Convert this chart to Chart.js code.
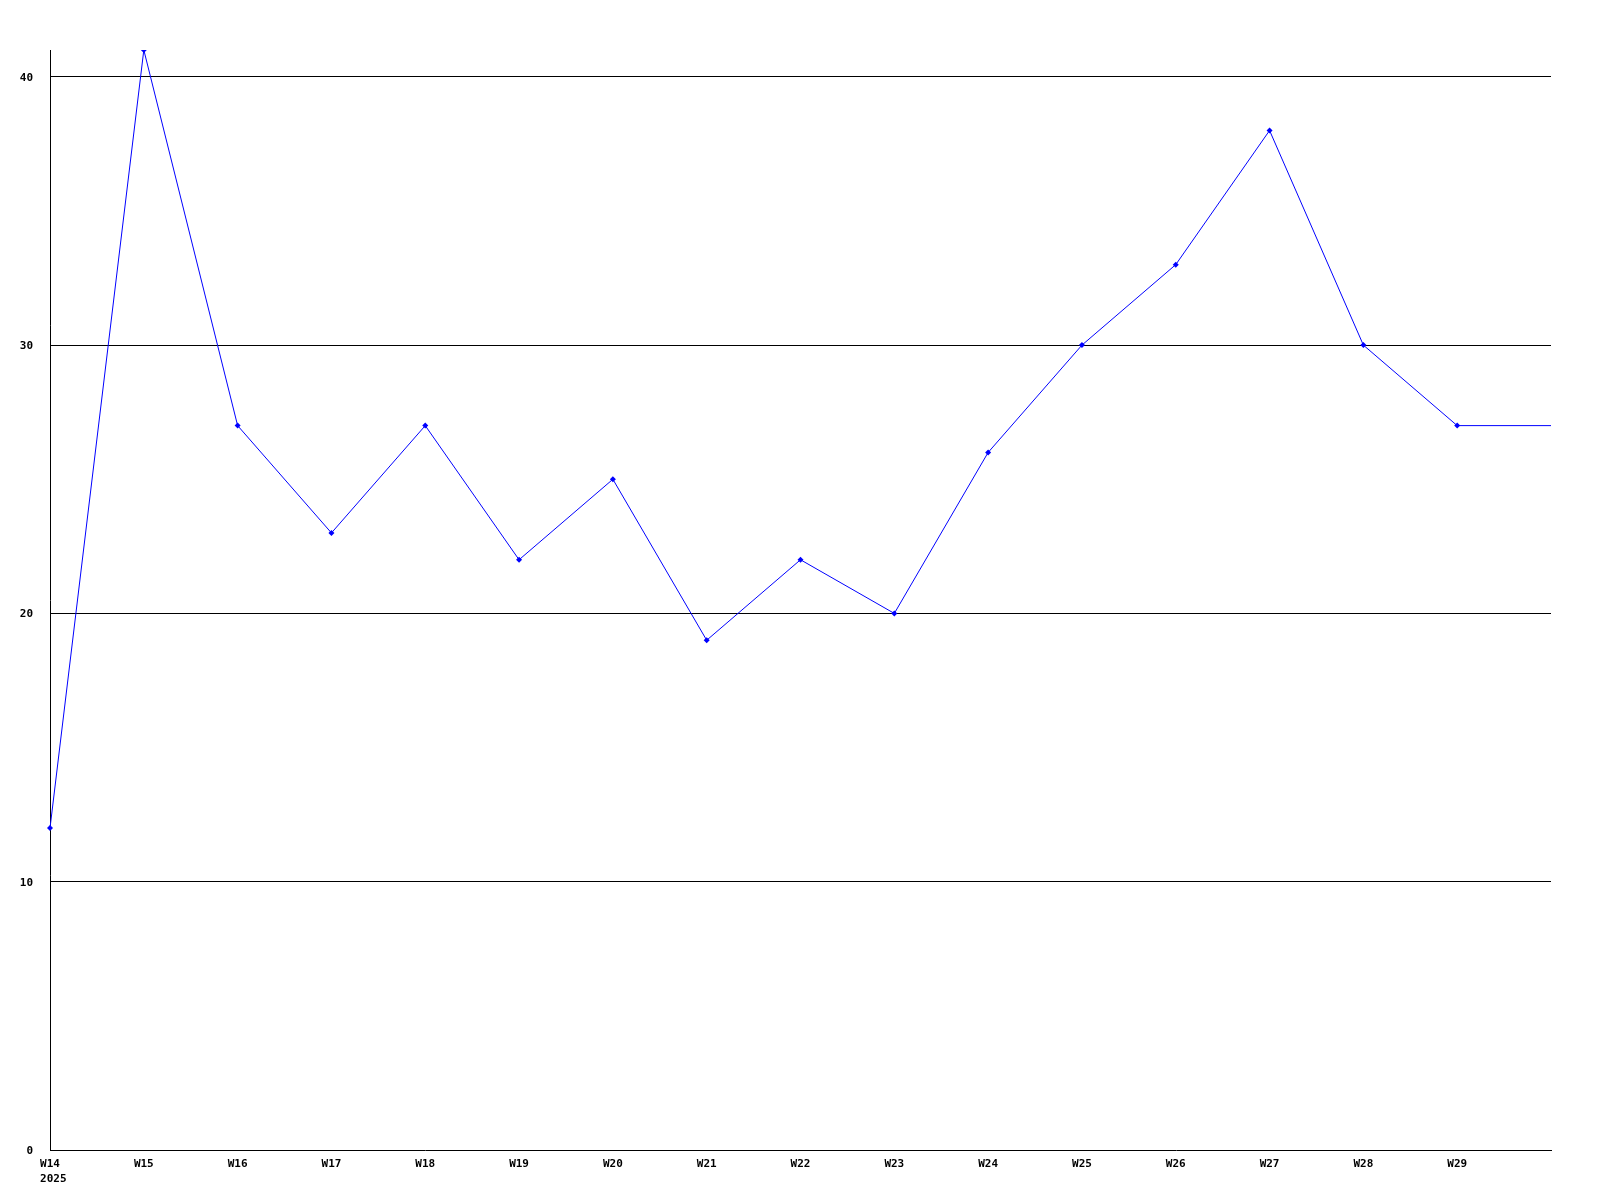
<!DOCTYPE html>
<html>
<head>
<meta charset="utf-8">
<script src="https://cdn.jsdelivr.net/npm/chart.js@4/dist/chart.umd.min.js"></script>
<style>
html,body{margin:0;padding:0;background:#fff;}
#wrap{width:1600px;height:1200px;}
</style>
</head>
<body>
<div id="wrap"><canvas id="c" width="1600" height="1200"></canvas></div>
<script>
const categories = ['W14','W15','W16','W17','W18','W19','W20','W21','W22','W23','W24','W25','W26','W27','W28','W29',''];
const yearLabel = '2025';
const values = [12,41,27,23,27,22,25,19,22,20,26,30,33,38,30,27,27];
const yTicks = [0,10,20,30,40];

const labels = categories.map((c,i) => i === 0 ? [c, ' ' + yearLabel] : c);
const font = {family: 'DejaVu Sans Mono', size: 11, weight: 'bold', lineHeight: 1.4};

new Chart(document.getElementById('c'), {
  type: 'line',
  data: {
    labels: labels,
    datasets: [{
      data: values,
      borderColor: '#0000ff',
      backgroundColor: '#0000ff',
      borderWidth: 1,
      tension: 0,
      pointStyle: 'rectRot',
      pointRadius: values.map((v,i) => i === values.length - 1 ? 0 : 3),
      pointBorderWidth: 0,
      fill: false
    }]
  },
  options: {
    responsive: false,
    animation: false,
    devicePixelRatio: 1,
    layout: {padding: {top: 50, right: 49, left: 0, bottom: 0}},
    plugins: {legend: {display: false}, tooltip: {enabled: false}},
    scales: {
      x: {
        type: 'category',
        offset: false,
        grid: {display: false, drawTicks: false},
        border: {color: '#000', width: 1},
        ticks: {color: '#000', font: font, maxRotation: 0, autoSkip: false, padding: 6},
        afterFit: s => { s.height = 50; }
      },
      y: {
        min: 0,
        max: 41,
        grid: {color: ctx => ctx.tick && ctx.tick.value === 0 ? 'rgba(0,0,0,0)' : '#000', drawTicks: false, lineWidth: 1},
        border: {color: '#000', width: 1},
        ticks: {color: '#000', font: {family: 'DejaVu Sans Mono', size: 11, weight: 'bold'}, padding: 17, labelOffset: 1},
        afterBuildTicks: s => { s.ticks = yTicks.map(v => ({value: v})); },
        afterFit: s => { s.width = 50; }
      }
    }
  }
});
</script>
</body>
</html>
